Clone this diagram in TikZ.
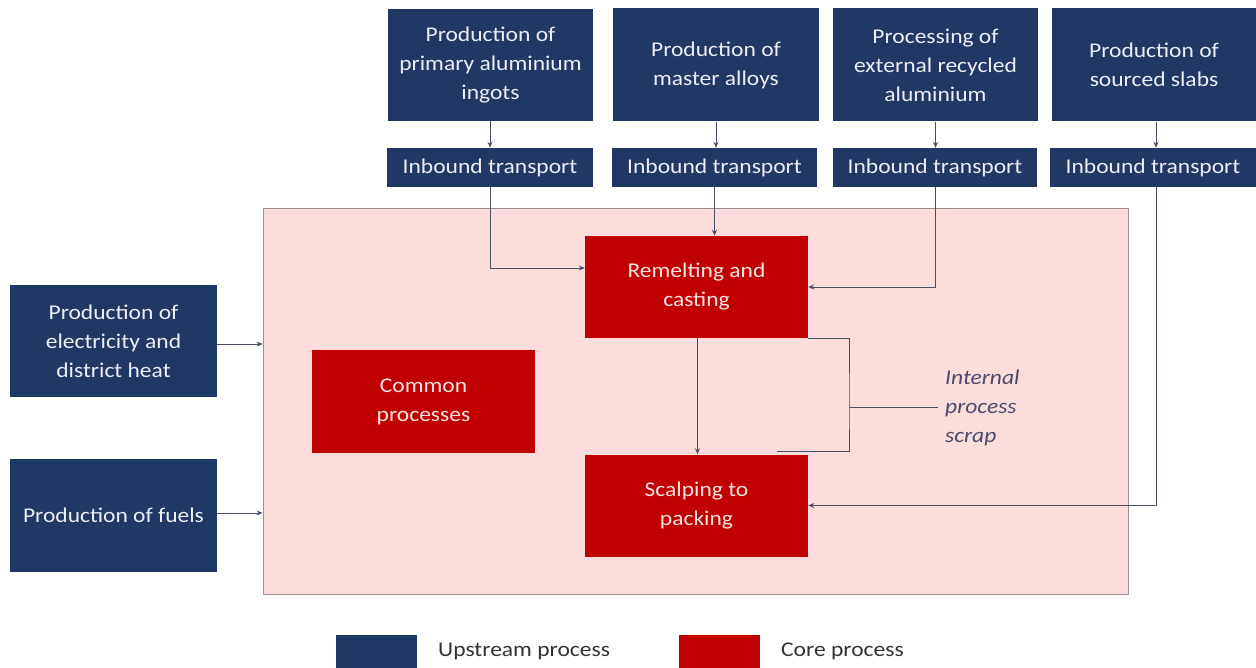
\documentclass[tikz,border=0pt]{standalone}
\usepackage{fontspec}
\setmainfont{Carlito}[FakeStretch=1.12]
\usetikzlibrary{arrows.meta,positioning}
\definecolor{navy}{HTML}{1F3864}
\definecolor{core}{HTML}{C00000}
\definecolor{pinkbg}{HTML}{FDDCDC}
\definecolor{pinkline}{HTML}{9A9090}
\definecolor{conn}{HTML}{4A4E66}
\definecolor{scraptxt}{HTML}{4A4A6A}
\definecolor{uptxt}{HTML}{ECEFF5}
\definecolor{coretxt}{HTML}{FBE2E2}
\tikzset{
  up/.style={fill=navy, draw=none, text=uptxt, align=center, inner sep=0pt,
    font=\fontsize{21}{29}\selectfont},
  corebox/.style={fill=core, draw=none, text=coretxt, align=center, inner sep=0pt,
    font=\fontsize{21}{29}\selectfont, minimum width=223pt, minimum height=102pt},
  arr/.style={draw=conn, line width=0.8pt, -{Stealth[length=6pt,width=5pt]}},
  ln/.style={draw=conn, line width=0.8pt},
  legtxt/.style={text=black!80, anchor=west, inner sep=0pt, font=\fontsize{21}{25}\selectfont}
}
\begin{document}
\begin{tikzpicture}[x=1pt,y=-1pt]
\useasboundingbox (0,0) rectangle (1256,668);
% background region
\node[fill=pinkbg, draw=pinkline, line width=0.8pt, minimum width=865pt, minimum height=386pt, inner sep=0pt] (bg) at (695.5,401.5) {};
% top upstream boxes
\node[up, minimum width=205pt, minimum height=112pt] (p1) at (490.5,65) {Production of\\primary aluminium\\ingots};
\node[up, minimum width=206pt, minimum height=113pt] (p2) at (716,65) {Production of\\master alloys};
\node[up, minimum width=205pt, minimum height=113pt] (p3) at (935.5,65) {Processing of\\external recycled\\aluminium};
\node[up, minimum width=204pt, minimum height=113pt] (p4) at (1154,65) {Production of\\sourced slabs};
% inbound transport
\node[up, minimum width=206pt, minimum height=39pt] (i1) at (490,167.5) {Inbound transport};
\node[up, minimum width=205pt, minimum height=39pt] (i2) at (714.5,167.5) {Inbound transport};
\node[up, minimum width=204pt, minimum height=39pt] (i3) at (935,167.5) {Inbound transport};
\node[up, minimum width=206pt, minimum height=39pt] (i4) at (1153,167.5) {Inbound transport};
% left upstream
\node[up, minimum width=207pt, minimum height=112pt] (el) at (113.5,341) {Production of\\electricity and\\district heat};
\node[up, minimum width=207pt, minimum height=113pt] (fu) at (113.5,515.5) {Production of fuels};
% core boxes
\node[corebox] (rem) at (696.5,287) {Remelting and\\casting};
\node[corebox] (sca) at (696.5,505.5) {Scalping to\\packing};
\node[corebox] (com) at (423.5,401.5) {Common\\processes};
% scrap label
\node[text=scraptxt, align=left, anchor=west, inner sep=0pt, font=\fontsize{21}{29}\selectfont\itshape] (scr) at (945,408) {Internal\\process\\scrap};
% connectors top
\draw[arr] ([xshift=-0.5pt]p1.south) -- (i1.north);
\draw[arr] (p2.south) -- (p2.south |- i2.north);
\draw[arr] (p3.south) -- (p3.south |- i3.north);
\draw[arr] ([xshift=2pt]p4.south) -- ([xshift=3pt]i4.north);
% inbound to core
\draw[arr] (i1.south) |- ([yshift=19pt]rem.west);
\draw[arr] (i2.south) -- (i2.south |- rem.north);
\draw[arr] (i3.south) |- (rem.east);
\draw[arr] ([xshift=3pt]i4.south) |- (sca.east);
% left to region
\draw[arr] ([yshift=-3pt]el.east) -- ([yshift=-3pt]el.east -| bg.west);
\draw[arr] ([yshift=2.5pt]fu.east) -- ([yshift=2.5pt]fu.east -| bg.west);
% remelting to scalping
\draw[arr] ([xshift=1pt]rem.south) -- ([xshift=1pt]sca.north);
% internal scrap loop
\coordinate (sj) at (849,407);
\draw[ln] (rem.south east) -| (sj) |- ([xshift=-31pt,yshift=3pt]sca.north east);
\draw[ln] (sj) -- ([xshift=-7pt]scr.west |- sj);
% legend
\node[fill=navy, minimum width=81pt, minimum height=36pt, inner sep=0pt] (lu) at (376.5,653) {};
\node[legtxt] (lut) at (438,651) {Upstream process};
\node[fill=core, minimum width=81pt, minimum height=36pt, inner sep=0pt] (lc) at (719.5,653) {};
\node[legtxt] (lct) at (781,651) {Core process};
\end{tikzpicture}
\end{document}
